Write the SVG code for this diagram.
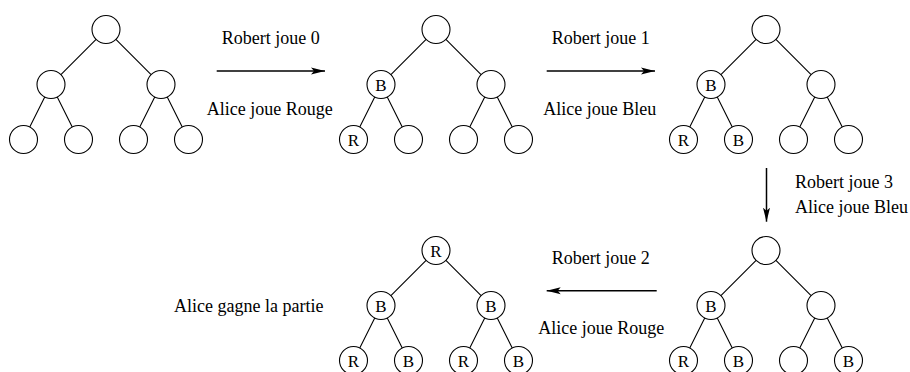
<svg xmlns="http://www.w3.org/2000/svg" xmlns:xlink="http://www.w3.org/1999/xlink" width="910" height="372" viewBox="0 0 910 372">
<style>
.n{fill:#fff;stroke:#000;stroke-width:1.1}
.e{fill:none;stroke:#000;stroke-width:1.1}
.a{fill:none;stroke:#000;stroke-width:1.5}
.t{font-family:"Liberation Serif","Times New Roman",serif;font-size:18px;fill:#000}
.l{font-family:"Liberation Serif","Times New Roman",serif;font-size:17px;fill:#000;text-anchor:middle}
</style>
<defs>
<path id="edges" d="M-9.9,9.9 L-45.1,45.1 M9.9,9.9 L45.1,45.1 M-61.26,67.52 L-76.24,97.48 M-48.74,67.52 L-33.76,97.48 M48.74,67.52 L33.76,97.48 M61.26,67.52 L76.24,97.48"/>
<marker id="ah" markerUnits="userSpaceOnUse" markerWidth="16" markerHeight="9" refX="14" refY="4.5" orient="auto">
<path d="M0,1 L14,4.5 L0,8 L3,4.5 Z" fill="#000"/>
</marker>
</defs>

<g id="tree1" transform="translate(106,29.5)">
<use xlink:href="#edges" class="e"/>
<g id="t1n0"><circle class="n" cx="0" cy="0" r="14"/></g>
<g id="t1n1"><circle class="n" cx="-55" cy="55" r="14"/></g>
<g id="t1n2"><circle class="n" cx="55" cy="55" r="14"/></g>
<g id="t1n3"><circle class="n" cx="-82.5" cy="110" r="14"/></g>
<g id="t1n4"><circle class="n" cx="-27.5" cy="110" r="14"/></g>
<g id="t1n5"><circle class="n" cx="27.5" cy="110" r="14"/></g>
<g id="t1n6"><circle class="n" cx="82.5" cy="110" r="14"/></g>
</g>

<g id="tree2" transform="translate(436,29.5)">
<use xlink:href="#edges" class="e"/>
<g id="t2n0"><circle class="n" cx="0" cy="0" r="14"/></g>
<g id="t2n1"><circle class="n" cx="-55" cy="55" r="14"/><text class="l" x="-55" y="61">B</text></g>
<g id="t2n2"><circle class="n" cx="55" cy="55" r="14"/></g>
<g id="t2n3"><circle class="n" cx="-82.5" cy="110" r="14"/><text class="l" x="-82.5" y="116">R</text></g>
<g id="t2n4"><circle class="n" cx="-27.5" cy="110" r="14"/></g>
<g id="t2n5"><circle class="n" cx="27.5" cy="110" r="14"/></g>
<g id="t2n6"><circle class="n" cx="82.5" cy="110" r="14"/></g>
</g>

<g id="tree3" transform="translate(766,29.5)">
<use xlink:href="#edges" class="e"/>
<g id="t3n0"><circle class="n" cx="0" cy="0" r="14"/></g>
<g id="t3n1"><circle class="n" cx="-55" cy="55" r="14"/><text class="l" x="-55" y="61">B</text></g>
<g id="t3n2"><circle class="n" cx="55" cy="55" r="14"/></g>
<g id="t3n3"><circle class="n" cx="-82.5" cy="110" r="14"/><text class="l" x="-82.5" y="116">R</text></g>
<g id="t3n4"><circle class="n" cx="-27.5" cy="110" r="14"/><text class="l" x="-27.5" y="116">B</text></g>
<g id="t3n5"><circle class="n" cx="27.5" cy="110" r="14"/></g>
<g id="t3n6"><circle class="n" cx="82.5" cy="110" r="14"/></g>
</g>

<g id="tree4" transform="translate(766,250.5)">
<use xlink:href="#edges" class="e"/>
<g id="t4n0"><circle class="n" cx="0" cy="0" r="14"/></g>
<g id="t4n1"><circle class="n" cx="-55" cy="55" r="14"/><text class="l" x="-55" y="61">B</text></g>
<g id="t4n2"><circle class="n" cx="55" cy="55" r="14"/></g>
<g id="t4n3"><circle class="n" cx="-82.5" cy="110" r="14"/><text class="l" x="-82.5" y="116">R</text></g>
<g id="t4n4"><circle class="n" cx="-27.5" cy="110" r="14"/><text class="l" x="-27.5" y="116">B</text></g>
<g id="t4n5"><circle class="n" cx="27.5" cy="110" r="14"/></g>
<g id="t4n6"><circle class="n" cx="82.5" cy="110" r="14"/><text class="l" x="82.5" y="116">B</text></g>
</g>

<g id="tree5" transform="translate(436,250.5)">
<use xlink:href="#edges" class="e"/>
<g id="t5n0"><circle class="n" cx="0" cy="0" r="14"/><text class="l" x="0" y="6">R</text></g>
<g id="t5n1"><circle class="n" cx="-55" cy="55" r="14"/><text class="l" x="-55" y="61">B</text></g>
<g id="t5n2"><circle class="n" cx="55" cy="55" r="14"/><text class="l" x="55" y="61">B</text></g>
<g id="t5n3"><circle class="n" cx="-82.5" cy="110" r="14"/><text class="l" x="-82.5" y="116">R</text></g>
<g id="t5n4"><circle class="n" cx="-27.5" cy="110" r="14"/><text class="l" x="-27.5" y="116">B</text></g>
<g id="t5n5"><circle class="n" cx="27.5" cy="110" r="14"/><text class="l" x="27.5" y="116">R</text></g>
<g id="t5n6"><circle class="n" cx="82.5" cy="110" r="14"/><text class="l" x="82.5" y="116">B</text></g>
</g>

<g id="connectors">
<path class="a" d="M216.7,71 H325" marker-end="url(#ah)"/>
<path class="a" d="M546.7,71 H655" marker-end="url(#ah)"/>
<path class="a" d="M766.5,168 V221.7" marker-end="url(#ah)"/>
<path class="a" d="M656.7,290.7 H546.7" marker-end="url(#ah)"/>
</g>

<g id="labels">
<text class="t" x="221.7" y="44">Robert joue 0</text>
<text class="t" x="206.7" y="114.5">Alice joue Rouge</text>
<text class="t" x="551.7" y="44">Robert joue 1</text>
<text class="t" x="543.3" y="114.5">Alice joue Bleu</text>
<text class="t" x="795" y="187.5">Robert joue 3</text>
<text class="t" x="795" y="213">Alice joue Bleu</text>
<text class="t" x="551.7" y="263.5">Robert joue 2</text>
<text class="t" x="538.3" y="333.5">Alice joue Rouge</text>
<text class="t" x="174" y="311.7">Alice gagne la partie</text>
</g>
</svg>
